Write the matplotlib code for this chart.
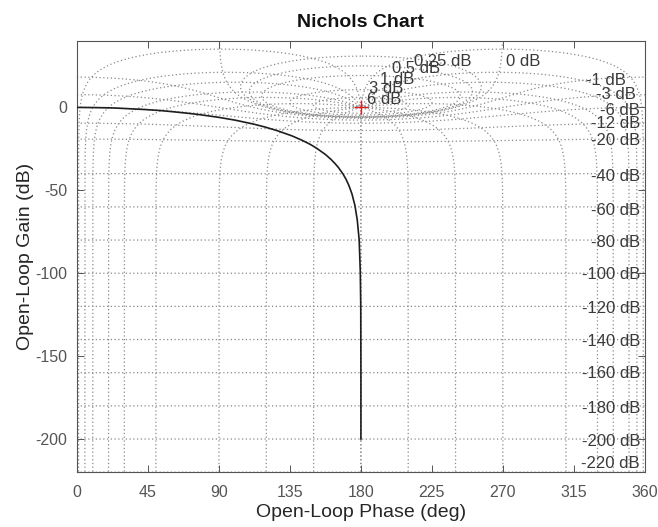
import numpy as np
import matplotlib
matplotlib.use("Agg")
import matplotlib.pyplot as plt

plt.rcParams['font.family'] = ['Liberation Sans', 'DejaVu Sans']
plt.rcParams['axes.unicode_minus'] = False

# open-loop response (phase deg, gain dB)
ol_phase = [0.0, 11.4, 22.6, 33.4, 43.6, 53.1, 61.9, 70.0, 77.3, 84.0, 90.0, 100.4,
            112.6, 119.1, 126.9, 136.4, 143.1, 148.1, 151.9, 157.4, 161.1, 163.7,
            165.8, 168.6, 170.5, 172.4, 174.3, 176.2, 177.7, 178.9, 179.6, 179.9,
            180.0, 180.0]
ol_gain = [0.0, -0.1, -0.3, -0.8, -1.3, -1.9, -2.7, -3.5, -4.3, -5.2, -6.0, -7.7,
           -10.2, -11.8, -14.0, -17.2, -20.0, -22.4, -24.6, -28.3, -31.4, -34.0,
           -36.3, -40.1, -43.2, -47.1, -52.1, -59.1, -68.0, -80.0, -99.1, -120.0,
           -160.0, -200.0]

# closed-loop gain contours (dB) and closed-loop phase contours (deg)
m_db = [6, 3, 1, 0.5, 0.25, 0, -1, -3, -6, -12, -20, -40, -60, -80, -100,
        -120, -140, -160, -180, -200, -220]
n_deg = [1, 5, 10, 20, 30, 50, 90, 120, 150, 180]

# where the contour labels sit (phase, gain, alignment)
label_pos = {
    6: (194.5, 4.6, 'center'), 3: (195.8, 11.3, 'center'), 1: (203.1, 17.0, 'center'),
    0.5: (214.8, 23.7, 'center'), 0.25: (232.0, 27.7, 'center'), 0: (283.0, 27.7, 'center'),
    -1: (348.0, 16.3, 'right'), -3: (354.3, 7.8, 'right'), -6: (357, -1.8, 'right'),
    -12: (357, -9.6, 'right'), -20: (357, -19.9, 'right'), -40: (357, -41.6, 'right'),
    -60: (357, -62.0, 'right'), -80: (357, -81.3, 'right'), -100: (357, -100.6, 'right'),
    -120: (357, -121.0, 'right'), -140: (357, -141.0, 'right'), -160: (357, -160.2, 'right'),
    -180: (357, -181.3, 'right'), -200: (357, -201.2, 'right'), -220: (357, -215.0, 'right'),
}

fig = plt.figure(figsize=(6.58, 5.27), dpi=100)
ax = fig.add_axes([0.117, 0.104, 0.863, 0.818])

grid_kw = dict(color='#8a8a8a', lw=0.9, ls=(0, (1, 2.0)), zorder=1)

# constant closed-loop gain lines
th = np.linspace(1e-5, 2 * np.pi - 1e-5, 40001)
for m in m_db:
    T = 10 ** (m / 20) * np.exp(1j * th)
    G = T / (1 - T)
    ph = np.degrees(np.angle(-G)) + 180
    g = 20 * np.log10(np.abs(G))
    ax.plot(ph, g, **grid_kw)

# constant closed-loop phase lines
mag = np.sort(np.concatenate([np.logspace(-12, 5, 4000), np.linspace(0.8, 1.25, 4000)]))
for n in n_deg:
    T = mag * np.exp(1j * np.radians(n))
    G = T / (1 - T)
    ph = np.degrees(np.angle(G)) % 360
    g = 20 * np.log10(np.abs(G))
    ax.plot(ph, g, **grid_kw)
    ax.plot(360 - ph, g, **grid_kw)

for m in m_db:
    x, y, ha = label_pos[m]
    ax.text(x, y, f"{m:g} dB", ha=ha, va='center', fontsize=12, color='#3a3a3a', zorder=3)

ax.plot(ol_phase, ol_gain, color='#1e1e1e', lw=1.2, zorder=4)
ax.plot([180], [0], marker='+', color='#e02020', ms=10, mew=1.0, zorder=5)

ax.set_xlim(0, 360)
ax.set_ylim(-220, 40)
ax.set_xticks(np.arange(0, 361, 45))
ax.set_yticks([-200, -150, -100, -50, 0])
ax.tick_params(direction='in', top=True, right=True, length=5, width=0.7,
               colors='#555555', labelsize=11.5, labelcolor='#555555')
ax.tick_params(axis='x', pad=9)
ax.tick_params(axis='y', pad=7)
for s in ax.spines.values():
    s.set_color('#555555')
    s.set_linewidth(0.8)

ax.set_xlabel('Open-Loop Phase (deg)', fontsize=14, color='#262626', labelpad=3)
ax.set_ylabel('Open-Loop Gain (dB)', fontsize=14, color='#262626', labelpad=1)
ax.set_title('Nichols Chart', fontsize=14, fontweight='bold', color='#111111', pad=10)

fig.savefig('out.png', dpi=100)
